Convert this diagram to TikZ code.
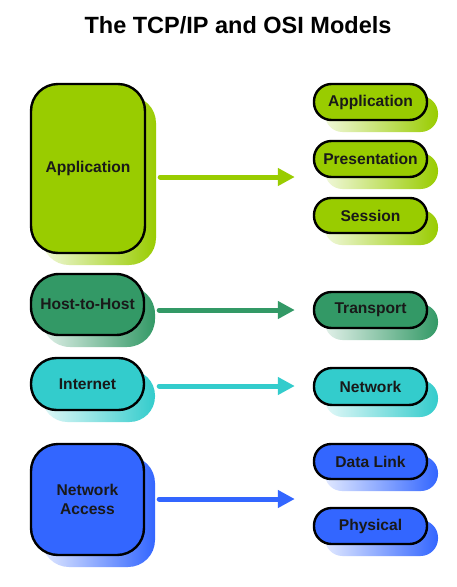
\documentclass[tikz,border=0pt]{standalone}
\usepackage{fontspec}
\setmainfont{Liberation Sans}
\usetikzlibrary{arrows.meta,calc}
\definecolor{limec}{RGB}{153,204,0}
\definecolor{hostc}{RGB}{51,153,102}
\definecolor{inetc}{RGB}{51,204,204}
\definecolor{nacc}{RGB}{51,102,255}
\tikzset{
  layerbox/.style={draw=black, line width=2.4pt, inner sep=0pt, align=center,
    text=black!90, font=\bfseries\fontsize{15.6}{19}\selectfont},
  shadowbox/.style={inner sep=0pt, left color=#1!15!white, middle color=#1!65!white, right color=#1},
  arr/.style={draw=#1, line width=5pt, line cap=round,
    -{Triangle[length=17pt,width=17pt]}, shorten <=14pt, shorten >=18pt}
}
\newcommand\lyr[8]{%
  \node[shadowbox=#7, minimum width=#4pt, minimum height=#5pt, rounded corners=#6pt] (#1-sh) at (#2+11,#3+12) {};
  \node[layerbox, fill=#7, minimum width=#4pt, minimum height=#5pt, rounded corners=#6pt] (#1) at (#2,#3) {#8};
}
\begin{document}
\begin{tikzpicture}[x=1pt,y=-1pt]
\useasboundingbox[fill=white] (0,0) rectangle (457,587);
\node[anchor=base, inner sep=0pt, font=\bfseries\fontsize{23.5}{28}\selectfont] (title) at (238,33) {The TCP/IP and OSI Models};
% left column
\lyr{appL}{88}{168.5}{114}{169}{27}{limec}{Application}
\lyr{host}{87.5}{304.5}{113}{61}{28}{hostc}{Host-to-Host}
\lyr{inet}{87.5}{384}{113}{52}{25.5}{inetc}{Internet}
\lyr{nacc}{87.5}{499.5}{113}{111}{27}{nacc}{Network\\Access}
% right column
\lyr{appR}{370.5}{102}{113}{36}{17.5}{limec}{Application}
\lyr{pres}{370.5}{159}{113}{36}{17.5}{limec}{Presentation}
\lyr{sess}{370.5}{215.5}{113}{35}{17}{limec}{Session}
\lyr{trans}{370.5}{310}{113}{36}{17.5}{hostc}{Transport}
\lyr{netw}{370.5}{386.5}{113}{37}{18}{inetc}{Network}
\lyr{dlink}{370.5}{461.5}{113}{35}{17}{nacc}{Data Link}
\lyr{phys}{370.5}{526}{113}{36}{17.5}{nacc}{Physical}
% arrows
\coordinate (y1) at (0,177);
\coordinate (y2) at (0,310);
\coordinate (y3) at (0,386);
\coordinate (y4) at (0,499);
\draw[arr=limec] (appL.east |- y1) -- (pres.west |- y1);
\draw[arr=hostc] (host.east |- y2) -- (trans.west |- y2);
\draw[arr=inetc] (inet.east |- y3) -- (netw.west |- y3);
\draw[arr=nacc] (nacc.east |- y4) -- (dlink.west |- y4);
\end{tikzpicture}
\end{document}
